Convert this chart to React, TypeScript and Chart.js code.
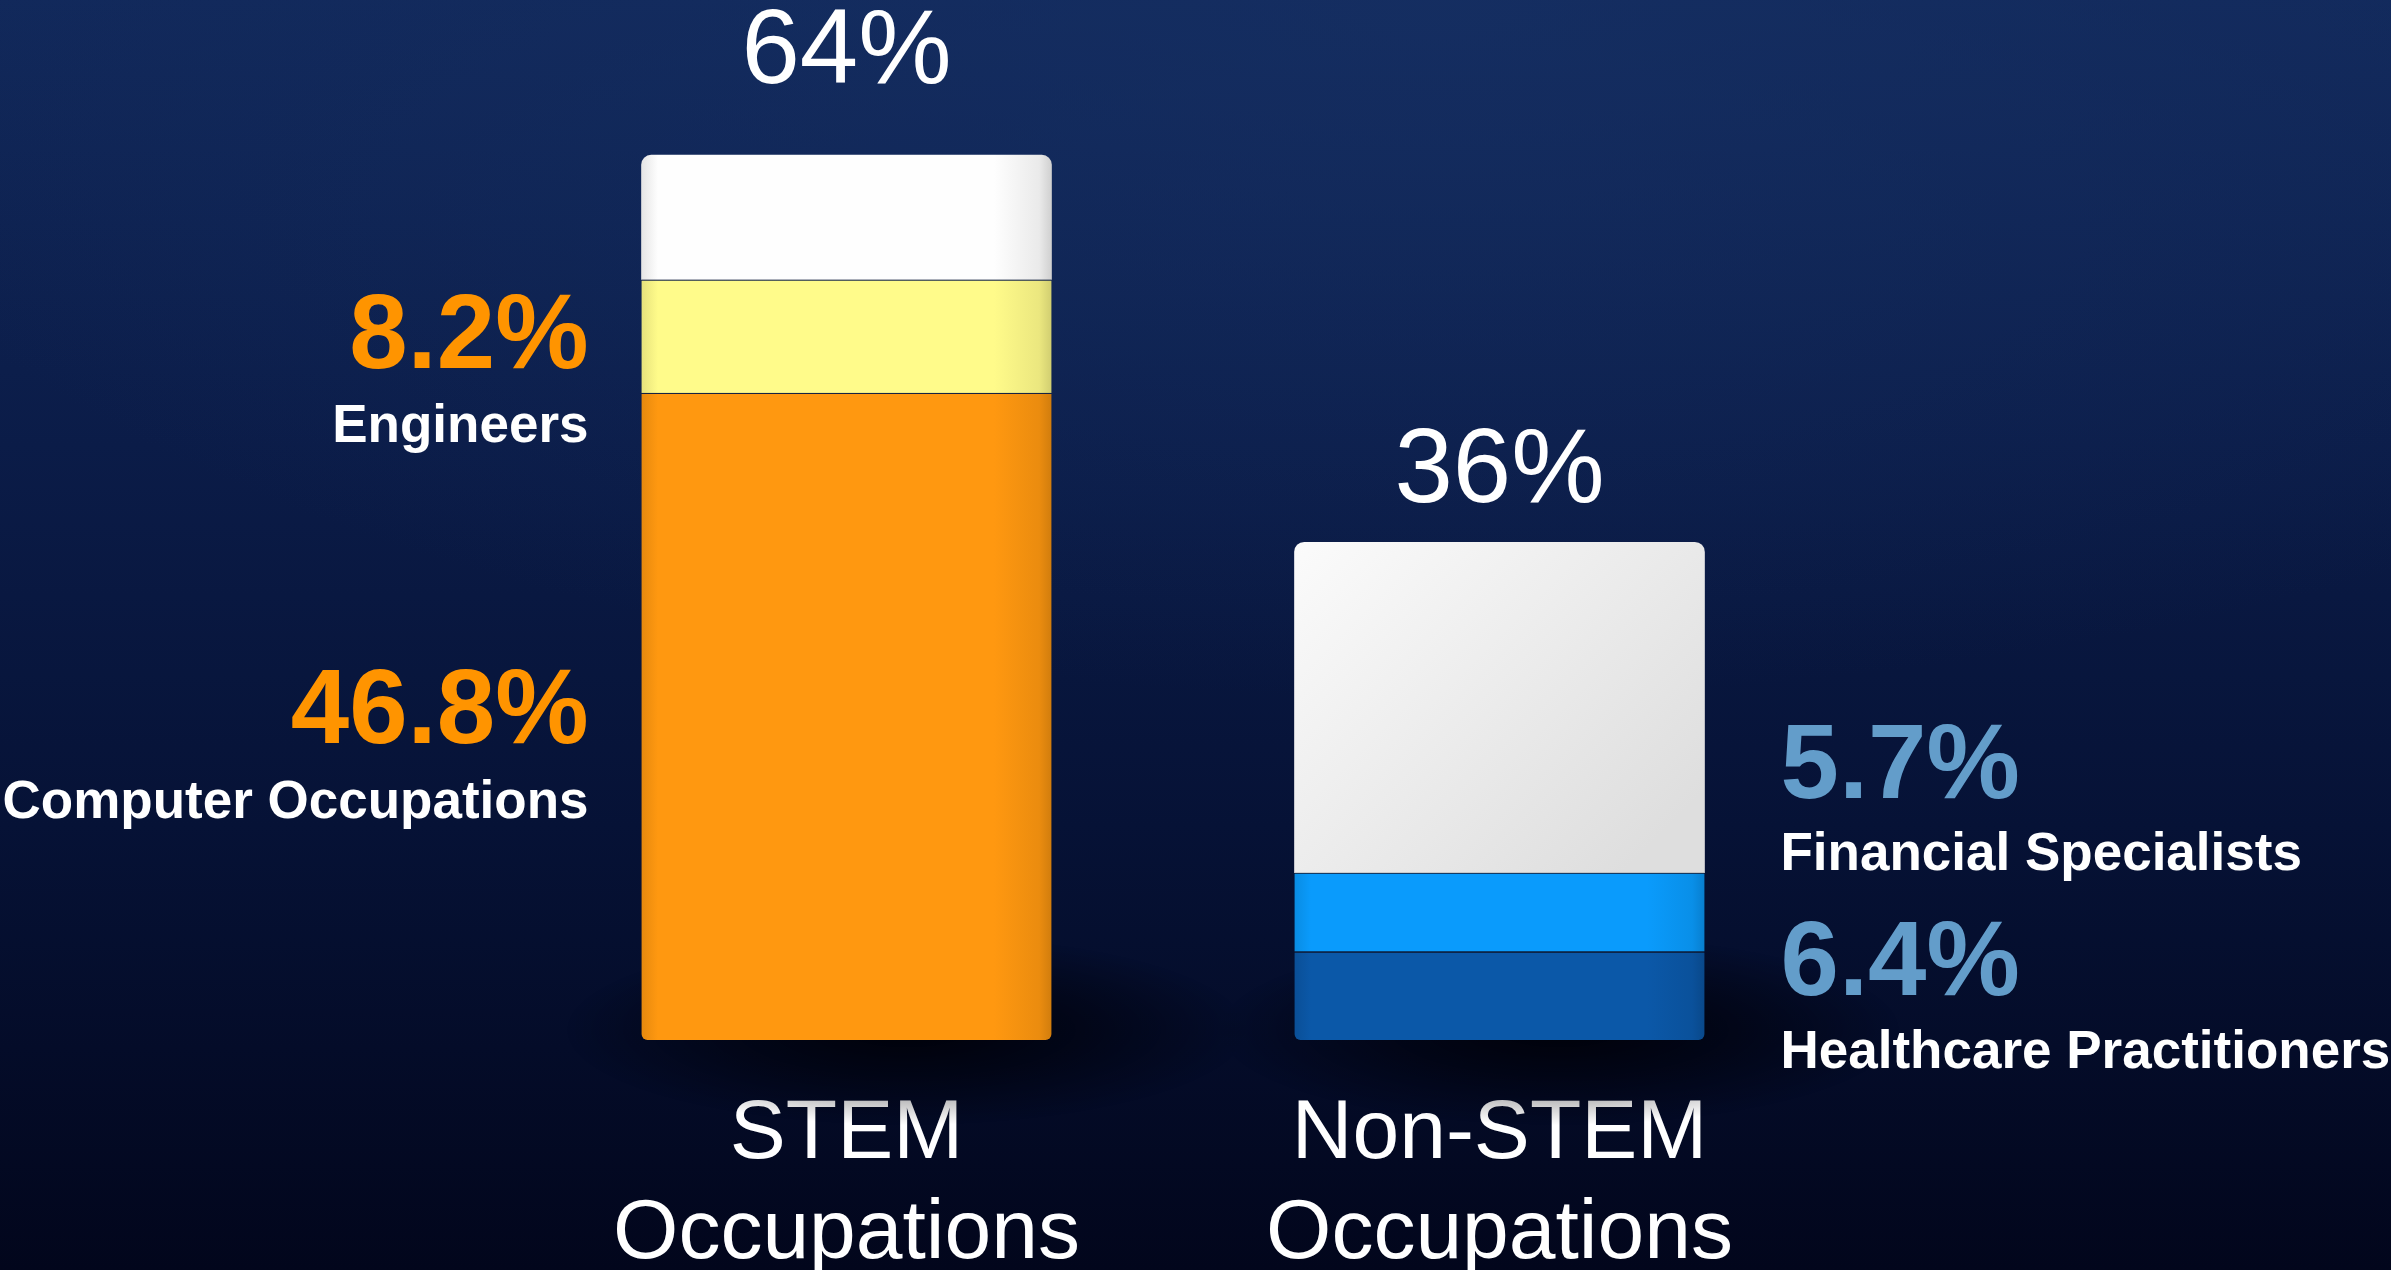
import React, { useEffect, useRef } from "react";
import { Chart, registerables } from "chart.js";

Chart.register(...registerables);

// ---------- data ----------
const categories = [["STEM", "Occupations"], ["Non-STEM", "Occupations"]];
const totals = [64, 36];
const baseShare = [46.8, 6.4];
const baseNames = ["Computer Occupations", "Healthcare Practitioners"];
const midShare = [8.2, 5.7];
const midNames = ["Engineers", "Financial Specialists"];
const restShare = [9.0, 23.9];

// ---------- style ----------
const W = 2391;
const H = 1270;
const FONT = '"Liberation Sans", Arial, Helvetica, sans-serif';
const BAR_W = 410;
const baseColors = ["#ff9810", "#0b58a8"];
const midColors = ["#fffb8a", "#0a9bfc"];
const restColors = ["#fefefe", "#f4f4f4"];
const calloutColors = ["#ff9400", "#639dca"];

function shade(hex: string, amt: number) {
  const n = parseInt(hex.slice(1), 16);
  const r = Math.round(((n >> 16) & 255) * (1 - amt));
  const g = Math.round(((n >> 8) & 255) * (1 - amt));
  const b = Math.round((n & 255) * (1 - amt));
  return `rgb(${r},${g},${b})`;
}

function barFill(colors: string[], diagonal = false) {
  return (c: any) => {
    const chart = c.chart;
    const idx = typeof c.dataIndex === "number" ? c.dataIndex : 0;
    const base = colors[idx];
    if (!chart.chartArea || c.type !== "data") return base;
    const x = chart.scales.x.getPixelForValue(idx);
    const half = BAR_W / 2;
    if (diagonal && idx === 1) {
      const ys = chart.scales.y;
      const top = ys.getPixelForValue(totals[idx]);
      const bottom = ys.getPixelForValue(totals[idx] - restShare[idx]);
      const g = chart.ctx.createLinearGradient(x - half, top, x + half * 0.6, bottom);
      g.addColorStop(0, "#fbfbfb");
      g.addColorStop(1, "#dedede");
      return g;
    }
    const g = chart.ctx.createLinearGradient(x - half, 0, x + half, 0);
    g.addColorStop(0, shade(base, 0.1));
    g.addColorStop(0.04, base);
    g.addColorStop(0.86, base);
    g.addColorStop(0.97, shade(base, 0.08));
    g.addColorStop(1, shade(base, 0.18));
    return g;
  };
}

const overlay = {
  id: "overlay",
  beforeDatasetsDraw(chart: any) {
    const { ctx } = chart;
    const xs = chart.scales.x;
    const ys = chart.scales.y;
    const base = ys.getPixelForValue(0);
    categories.forEach((_, i) => {
      const x = xs.getPixelForValue(i);
      ctx.save();
      ctx.translate(x + 60, base - 10);
      ctx.scale(1, 0.28);
      const r = 340;
      const g = ctx.createRadialGradient(0, 0, 0, 0, 0, r);
      g.addColorStop(0, "rgba(0,0,6,0.9)");
      g.addColorStop(0.5, "rgba(0,0,6,0.5)");
      g.addColorStop(1, "rgba(0,0,6,0)");
      ctx.fillStyle = g;
      ctx.beginPath();
      ctx.arc(0, 0, r, 0, Math.PI * 2);
      ctx.fill();
      ctx.restore();
    });
  },
  afterDatasetsDraw(chart: any) {
    const { ctx } = chart;
    const xs = chart.scales.x;
    ctx.save();
    // totals above bars
    const totalBaselines = [83, 502];
    ctx.fillStyle = "#ffffff";
    ctx.textAlign = "center";
    ctx.textBaseline = "alphabetic";
    ctx.font = `normal 105px ${FONT}`;
    totals.forEach((t, i) => {
      ctx.fillText(`${t}%`, xs.getPixelForValue(i), totalBaselines[i]);
    });

    // callouts
    const sideOffset = [-258, 281];
    const align = ["right", "left"];
    const midY = [[368, 442], [798, 870]];
    const baseY = [[743, 818], [995, 1068]];
    categories.forEach((_, i) => {
      const x = xs.getPixelForValue(i) + sideOffset[i];
      ctx.textAlign = align[i];
      ctx.font = `bold 105px ${FONT}`;
      ctx.fillStyle = calloutColors[i];
      ctx.fillText(`${midShare[i].toFixed(1)}%`, x, midY[i][0]);
      ctx.fillText(`${baseShare[i].toFixed(1)}%`, x, baseY[i][0]);
      ctx.font = `bold 53px ${FONT}`;
      ctx.fillStyle = "#ffffff";
      ctx.fillText(midNames[i], x, midY[i][1]);
      ctx.fillText(baseNames[i], x, baseY[i][1]);
    });
    ctx.restore();
  },
};

export default function App() {
  const ref = useRef<HTMLCanvasElement>(null);

  useEffect(() => {
    const chart = new Chart(ref.current as HTMLCanvasElement, {
      type: "bar",
      data: {
        labels: categories,
        datasets: [
          {
            label: "Base",
            data: baseShare,
            backgroundColor: barFill(baseColors),
            borderRadius: { bottomLeft: 6, bottomRight: 6, topLeft: 0, topRight: 0 },
            borderSkipped: false,
            borderWidth: { top: 1.5, left: 0, right: 0, bottom: 0 },
            borderColor: "rgba(40,40,40,0.3)",
            barThickness: BAR_W,
          },
          {
            label: "Middle",
            data: midShare,
            backgroundColor: barFill(midColors),
            borderSkipped: false,
            borderWidth: { top: 1.5, left: 0, right: 0, bottom: 0 },
            borderColor: "rgba(60,60,60,0.3)",
            barThickness: BAR_W,
          },
          {
            label: "Rest",
            data: restShare,
            backgroundColor: barFill(restColors, true),
            borderRadius: { topLeft: 10, topRight: 10, bottomLeft: 0, bottomRight: 0 },
            borderSkipped: false,
            borderWidth: 0,
            barThickness: BAR_W,
          },
        ],
      },
      options: {
        responsive: false,
        animation: false,
        devicePixelRatio: 1,
        layout: { padding: { left: 520, right: 565, top: 3, bottom: 0 } },
        plugins: {
          legend: { display: false },
          tooltip: { enabled: false },
        },
        scales: {
          x: {
            stacked: true,
            grid: { display: false, drawTicks: false },
            border: { display: false },
            ticks: {
              color: "#ffffff",
              padding: 45,
              font: { family: FONT, size: 84, weight: "normal", lineHeight: 100 / 84 },
              maxRotation: 0,
              autoSkip: false,
            },
            afterFit: (scale: any) => {
              scale.height = 230;
            },
          },
          y: {
            stacked: true,
            display: false,
            min: 0,
            max: 75,
          },
        },
      },
      plugins: [overlay],
    } as any);
    return () => chart.destroy();
  }, []);

  return (
    <div
      style={{
        position: "fixed",
        left: 0,
        top: 0,
        width: W,
        height: H,
        overflow: "hidden",
        background:
          "radial-gradient(ellipse 70% 55% at 60% 0%, rgba(22,48,100,0.7) 0%, rgba(22,48,100,0) 100%), linear-gradient(180deg, #11285a 0%, #0b1c48 35%, #061236 65%, #02061c 100%)",
      }}
    >
      <canvas ref={ref} width={W} height={H} style={{ display: "block", width: W, height: H }} />
    </div>
  );
}
